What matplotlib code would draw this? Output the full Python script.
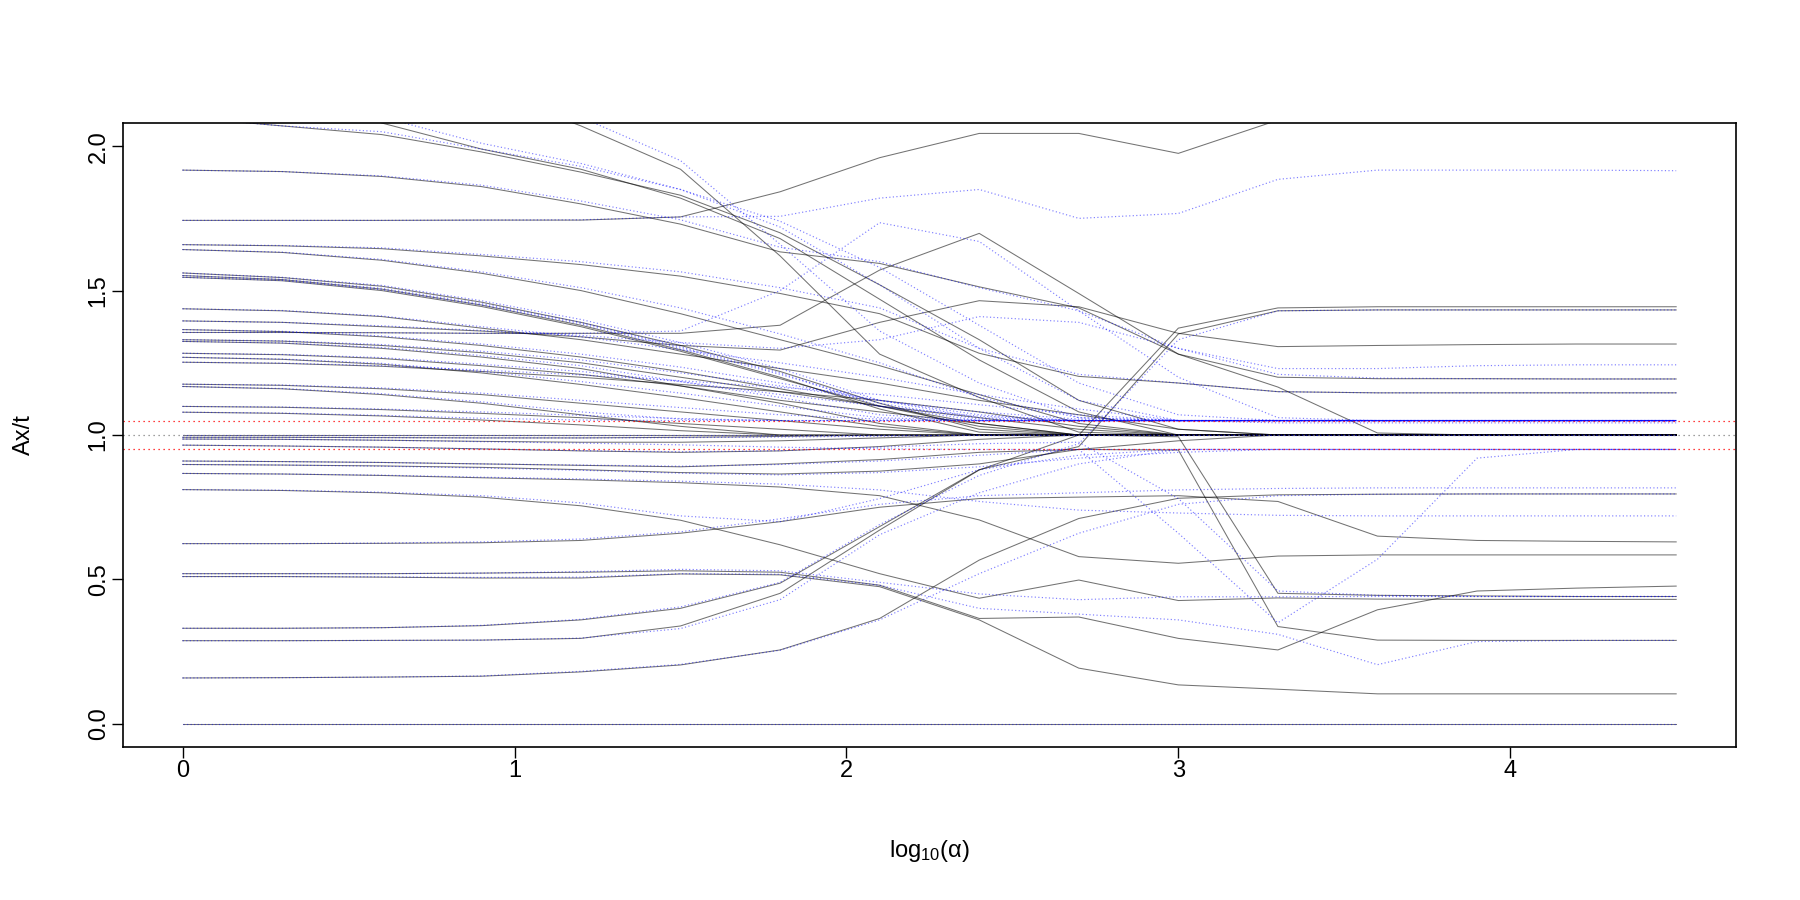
import matplotlib
matplotlib.use('Agg')
import matplotlib.pyplot as plt

plt.rcParams['font.family'] = ['Liberation Sans', 'DejaVu Sans']
plt.rcParams['mathtext.fontset'] = 'custom'
plt.rcParams['mathtext.rm'] = 'Liberation Sans'
plt.rcParams['mathtext.it'] = 'Liberation Sans'

# ── Data ──────────────────────────────────────────────────────────────────────
log_alpha = [0.0, 0.3, 0.6, 0.9, 1.2, 1.5, 1.8, 2.1, 2.4, 2.7, 3.0, 3.3, 3.6, 3.9, 4.2, 4.5]

# solid (grey) runs, one row per constraint
solid_runs = [
    [2.60, 2.50, 2.35, 2.20, 2.07, 1.92, 1.62, 1.28, 1.13, 1.01, 1.00, 1.00, 1.00, 1.00, 1.00, 1.00],
    [2.40, 2.25, 2.08, 1.99, 1.92, 1.82, 1.68, 1.47, 1.26, 1.08, 1.00, 1.00, 1.00, 1.00, 1.00, 1.00],
    [2.10, 2.07, 2.04, 1.98, 1.91, 1.83, 1.70, 1.52, 1.33, 1.12, 1.02, 1.00, 1.00, 1.00, 1.00, 1.00],
    [1.743, 1.743, 1.743, 1.744, 1.744, 1.755, 1.842, 1.960, 2.044, 2.044, 1.975, 2.090, 2.200, 2.200, 2.200, 2.200],
    [1.917, 1.912, 1.895, 1.860, 1.800, 1.730, 1.634, 1.594, 1.513, 1.440, 1.280, 1.200, 1.195, 1.195, 1.194, 1.194],
    [1.659, 1.655, 1.645, 1.620, 1.590, 1.550, 1.490, 1.420, 1.283, 1.203, 1.180, 1.150, 1.146, 1.146, 1.146, 1.146],
    [1.642, 1.632, 1.605, 1.560, 1.500, 1.420, 1.330, 1.240, 1.140, 1.040, 1.000, 1.000, 1.000, 1.000, 1.000, 1.000],
    [1.561, 1.545, 1.515, 1.460, 1.390, 1.310, 1.220, 1.110, 1.020, 1.000, 1.000, 1.000, 1.000, 1.000, 1.000, 1.000],
    [1.552, 1.538, 1.505, 1.450, 1.380, 1.295, 1.200, 1.090, 1.010, 1.000, 1.000, 1.000, 1.000, 1.000, 1.000, 1.000],
    [1.546, 1.534, 1.500, 1.445, 1.375, 1.290, 1.195, 1.100, 1.030, 1.000, 1.000, 1.000, 1.000, 1.000, 1.000, 1.000],
    [1.437, 1.430, 1.410, 1.370, 1.330, 1.280, 1.230, 1.180, 1.120, 1.070, 1.020, 1.000, 1.000, 1.000, 1.000, 1.000],
    [1.395, 1.390, 1.375, 1.360, 1.340, 1.310, 1.294, 1.390, 1.465, 1.444, 1.352, 1.306, 1.310, 1.313, 1.315, 1.315],
    [1.365, 1.358, 1.340, 1.310, 1.270, 1.220, 1.160, 1.100, 1.040, 1.000, 1.000, 1.000, 1.000, 1.000, 1.000, 1.000],
    [1.355, 1.355, 1.354, 1.352, 1.352, 1.352, 1.380, 1.571, 1.698, 1.490, 1.280, 1.166, 1.007, 1.000, 1.000, 1.000],
    [1.330, 1.325, 1.310, 1.285, 1.250, 1.200, 1.150, 1.100, 1.060, 1.020, 1.000, 1.000, 1.000, 1.000, 1.000, 1.000],
    [1.324, 1.318, 1.300, 1.270, 1.230, 1.170, 1.110, 1.040, 1.000, 1.000, 1.000, 1.000, 1.000, 1.000, 1.000, 1.000],
    [1.283, 1.278, 1.265, 1.240, 1.210, 1.170, 1.120, 1.080, 1.040, 1.000, 1.000, 1.000, 1.000, 1.000, 1.000, 1.000],
    [1.269, 1.262, 1.245, 1.215, 1.175, 1.130, 1.080, 1.030, 1.000, 1.000, 1.000, 1.000, 1.000, 1.000, 1.000, 1.000],
    [1.252, 1.248, 1.238, 1.220, 1.200, 1.175, 1.150, 1.120, 1.080, 1.030, 1.000, 1.000, 1.000, 1.000, 1.000, 1.000],
    [1.176, 1.172, 1.160, 1.140, 1.110, 1.080, 1.050, 1.020, 1.000, 1.000, 1.000, 1.000, 1.000, 1.000, 1.000, 1.000],
    [1.168, 1.160, 1.140, 1.110, 1.070, 1.030, 1.000, 1.000, 1.000, 1.000, 1.000, 1.000, 1.000, 1.000, 1.000, 1.000],
    [1.099, 1.096, 1.088, 1.075, 1.060, 1.040, 1.020, 1.000, 1.000, 1.000, 1.000, 1.000, 1.000, 1.000, 1.000, 1.000],
    [1.079, 1.075, 1.066, 1.052, 1.035, 1.015, 1.000, 1.000, 1.000, 1.000, 1.000, 1.000, 1.000, 1.000, 1.000, 1.000],
    [1.000, 1.000, 1.000, 1.000, 1.000, 1.000, 1.000, 1.000, 1.000, 1.000, 1.000, 1.000, 1.000, 1.000, 1.000, 1.000],
    [0.992, 0.992, 0.991, 0.990, 0.990, 0.992, 0.995, 1.000, 1.000, 1.000, 1.000, 1.000, 1.000, 1.000, 1.000, 1.000],
    [0.986, 0.985, 0.982, 0.978, 0.975, 0.975, 0.980, 0.990, 1.000, 1.000, 1.000, 1.000, 1.000, 1.000, 1.000, 1.000],
    [0.965, 0.962, 0.958, 0.952, 0.945, 0.940, 0.945, 0.960, 0.985, 1.000, 0.994, 0.452, 0.445, 0.443, 0.441, 0.441],
    [0.910, 0.908, 0.905, 0.900, 0.895, 0.890, 0.900, 0.915, 0.940, 0.950, 0.948, 0.337, 0.290, 0.289, 0.289, 0.289],
    [0.898, 0.896, 0.893, 0.888, 0.880, 0.870, 0.865, 0.875, 0.900, 0.950, 0.980, 1.000, 1.000, 1.000, 1.000, 1.000],
    [0.867, 0.865, 0.860, 0.852, 0.845, 0.835, 0.820, 0.790, 0.706, 0.579, 0.556, 0.581, 0.585, 0.585, 0.585, 0.585],
    [0.811, 0.808, 0.800, 0.785, 0.755, 0.705, 0.620, 0.520, 0.435, 0.498, 0.427, 0.436, 0.432, 0.431, 0.431, 0.431],
    [0.624, 0.624, 0.625, 0.627, 0.635, 0.660, 0.700, 0.750, 0.780, 0.785, 0.790, 0.770, 0.650, 0.635, 0.632, 0.630],
    [0.520, 0.520, 0.520, 0.522, 0.525, 0.530, 0.525, 0.480, 0.365, 0.370, 0.296, 0.256, 0.395, 0.460, 0.470, 0.477],
    [0.510, 0.510, 0.508, 0.505, 0.505, 0.519, 0.516, 0.475, 0.360, 0.193, 0.135, 0.120, 0.104, 0.104, 0.104, 0.104],
    [0.331, 0.331, 0.333, 0.340, 0.360, 0.400, 0.487, 0.683, 0.880, 0.960, 1.350, 1.430, 1.433, 1.433, 1.433, 1.433],
    [0.288, 0.288, 0.289, 0.290, 0.296, 0.339, 0.452, 0.671, 0.879, 1.000, 1.370, 1.440, 1.444, 1.444, 1.444, 1.444],
    [0.159, 0.160, 0.162, 0.165, 0.180, 0.204, 0.256, 0.365, 0.567, 0.711, 0.781, 0.793, 0.795, 0.796, 0.796, 0.796],
    [0.000, 0.000, 0.000, 0.000, 0.000, 0.000, 0.000, 0.000, 0.000, 0.000, 0.000, 0.000, 0.000, 0.000, 0.000, 0.000],
]

# dotted (blue) runs, same constraints, second method
dotted_runs = [
    [2.60, 2.50, 2.36, 2.22, 2.10, 1.95, 1.66, 1.36, 1.18, 1.06, 1.05, 1.05, 1.05, 1.05, 1.05, 1.05],
    [2.40, 2.26, 2.10, 2.01, 1.94, 1.85, 1.72, 1.52, 1.30, 1.12, 1.05, 1.05, 1.05, 1.05, 1.05, 1.05],
    [2.10, 2.07, 2.05, 1.99, 1.93, 1.85, 1.74, 1.58, 1.38, 1.18, 1.07, 1.05, 1.05, 1.05, 1.05, 1.05],
    [1.743, 1.743, 1.743, 1.744, 1.745, 1.755, 1.757, 1.820, 1.850, 1.750, 1.767, 1.885, 1.917, 1.917, 1.917, 1.915],
    [1.917, 1.912, 1.897, 1.865, 1.810, 1.745, 1.650, 1.600, 1.510, 1.430, 1.300, 1.210, 1.197, 1.195, 1.194, 1.194],
    [1.659, 1.656, 1.648, 1.625, 1.600, 1.565, 1.510, 1.440, 1.300, 1.210, 1.180, 1.150, 1.146, 1.146, 1.146, 1.146],
    [1.642, 1.633, 1.608, 1.565, 1.510, 1.440, 1.350, 1.250, 1.130, 1.060, 1.050, 1.050, 1.050, 1.050, 1.050, 1.050],
    [1.561, 1.546, 1.518, 1.465, 1.400, 1.320, 1.230, 1.120, 1.060, 1.050, 1.050, 1.050, 1.050, 1.050, 1.050, 1.050],
    [1.552, 1.539, 1.508, 1.455, 1.390, 1.305, 1.215, 1.100, 1.050, 1.050, 1.050, 1.050, 1.050, 1.050, 1.050, 1.050],
    [1.546, 1.535, 1.503, 1.450, 1.385, 1.300, 1.210, 1.110, 1.055, 1.050, 1.050, 1.050, 1.050, 1.050, 1.050, 1.050],
    [1.437, 1.431, 1.412, 1.375, 1.340, 1.295, 1.250, 1.200, 1.140, 1.090, 1.050, 1.050, 1.050, 1.050, 1.050, 1.050],
    [1.395, 1.390, 1.378, 1.362, 1.345, 1.320, 1.300, 1.330, 1.410, 1.390, 1.300, 1.230, 1.230, 1.240, 1.243, 1.243],
    [1.365, 1.359, 1.343, 1.315, 1.280, 1.235, 1.180, 1.120, 1.070, 1.050, 1.050, 1.050, 1.050, 1.050, 1.050, 1.050],
    [1.355, 1.355, 1.354, 1.352, 1.352, 1.360, 1.500, 1.735, 1.670, 1.430, 1.200, 1.060, 1.050, 1.050, 1.050, 1.050],
    [1.330, 1.326, 1.313, 1.290, 1.260, 1.215, 1.170, 1.120, 1.080, 1.055, 1.050, 1.050, 1.050, 1.050, 1.050, 1.050],
    [1.324, 1.319, 1.303, 1.275, 1.240, 1.185, 1.130, 1.070, 1.050, 1.050, 1.050, 1.050, 1.050, 1.050, 1.050, 1.050],
    [1.283, 1.279, 1.268, 1.245, 1.220, 1.185, 1.140, 1.100, 1.065, 1.050, 1.050, 1.050, 1.050, 1.050, 1.050, 1.050],
    [1.269, 1.263, 1.248, 1.220, 1.185, 1.145, 1.100, 1.060, 1.050, 1.050, 1.050, 1.050, 1.050, 1.050, 1.050, 1.050],
    [1.252, 1.249, 1.240, 1.225, 1.208, 1.188, 1.165, 1.140, 1.105, 1.070, 1.050, 1.042, 1.042, 1.042, 1.042, 1.042],
    [1.176, 1.173, 1.163, 1.145, 1.120, 1.095, 1.070, 1.055, 1.050, 1.050, 1.050, 1.050, 1.050, 1.050, 1.050, 1.050],
    [1.168, 1.161, 1.143, 1.115, 1.080, 1.055, 1.050, 1.050, 1.050, 1.050, 1.050, 1.050, 1.050, 1.050, 1.050, 1.050],
    [1.099, 1.097, 1.090, 1.080, 1.068, 1.057, 1.050, 1.050, 1.050, 1.050, 1.050, 1.050, 1.050, 1.050, 1.050, 1.050],
    [1.079, 1.076, 1.068, 1.058, 1.052, 1.050, 1.050, 1.050, 1.050, 1.050, 1.050, 1.050, 1.050, 1.050, 1.050, 1.050],
    [1.000, 1.000, 1.000, 1.000, 1.000, 1.000, 1.000, 1.000, 1.000, 1.000, 1.000, 1.000, 1.000, 1.000, 1.000, 1.000],
    [0.992, 0.992, 0.991, 0.990, 0.990, 0.991, 0.993, 0.996, 1.000, 1.000, 1.000, 1.000, 1.000, 1.000, 1.000, 1.000],
    [0.986, 0.985, 0.982, 0.977, 0.972, 0.966, 0.958, 0.952, 0.950, 0.950, 0.950, 0.950, 0.950, 0.950, 0.950, 0.950],
    [0.965, 0.962, 0.958, 0.952, 0.946, 0.942, 0.946, 0.958, 0.970, 0.975, 0.780, 0.460, 0.445, 0.441, 0.441, 0.441],
    [0.910, 0.908, 0.905, 0.900, 0.896, 0.892, 0.898, 0.910, 0.930, 0.950, 0.660, 0.350, 0.570, 0.920, 0.950, 0.950],
    [0.898, 0.896, 0.892, 0.886, 0.878, 0.868, 0.862, 0.870, 0.890, 0.920, 0.940, 0.950, 0.950, 0.950, 0.950, 0.950],
    [0.867, 0.865, 0.861, 0.854, 0.848, 0.840, 0.830, 0.810, 0.770, 0.740, 0.730, 0.722, 0.720, 0.720, 0.720, 0.720],
    [0.811, 0.809, 0.802, 0.790, 0.765, 0.720, 0.700, 0.780, 0.880, 0.930, 0.950, 0.950, 0.950, 0.950, 0.950, 0.950],
    [0.624, 0.624, 0.626, 0.630, 0.640, 0.665, 0.710, 0.760, 0.790, 0.800, 0.810, 0.815, 0.817, 0.817, 0.817, 0.817],
    [0.520, 0.520, 0.520, 0.522, 0.527, 0.535, 0.530, 0.490, 0.450, 0.430, 0.440, 0.440, 0.441, 0.441, 0.441, 0.441],
    [0.510, 0.510, 0.509, 0.507, 0.508, 0.520, 0.518, 0.480, 0.400, 0.380, 0.360, 0.310, 0.205, 0.285, 0.289, 0.289],
    [0.331, 0.331, 0.333, 0.341, 0.362, 0.405, 0.490, 0.690, 0.860, 0.970, 1.330, 1.430, 1.433, 1.433, 1.433, 1.433],
    [0.288, 0.288, 0.289, 0.290, 0.297, 0.330, 0.430, 0.655, 0.800, 0.900, 0.950, 0.950, 0.950, 0.950, 0.950, 0.950],
    [0.159, 0.160, 0.162, 0.166, 0.182, 0.206, 0.255, 0.360, 0.520, 0.660, 0.760, 0.790, 0.795, 0.796, 0.796, 0.796],
    [0.000, 0.000, 0.000, 0.000, 0.000, 0.000, 0.000, 0.000, 0.000, 0.000, 0.000, 0.000, 0.000, 0.000, 0.000, 0.000],
]

target = 1.0
tol_lines = [1.05, 0.95]

# ── Figure ────────────────────────────────────────────────────────────────────
fig = plt.figure(figsize=(18, 9), dpi=100)
ax = fig.add_axes([0.0683, 0.170, 0.8961, 0.6933])

for run in solid_runs:
    ax.plot(log_alpha, run, color='black', lw=0.75, alpha=0.55)
for run in dotted_runs:
    ax.plot(log_alpha, run, color='blue', lw=0.85, alpha=0.5, linestyle=(0, (1, 2)))

# reference lines: target and +/- 5% band
ax.axhline(target, color='grey', lw=0.9, linestyle=(0, (1, 3)))
for h in tol_lines:
    ax.axhline(h, color='red', lw=0.9, linestyle=(0, (1, 3)))

ax.set_xlim(-0.18, 4.68)
ax.set_ylim(-0.08, 2.08)
ax.set_xticks([0, 1, 2, 3, 4])
ax.set_yticks([0.0, 0.5, 1.0, 1.5, 2.0])
ax.set_yticklabels(['0.0', '0.5', '1.0', '1.5', '2.0'], rotation=90, va='center')
ax.tick_params(direction='out', length=8, width=1, labelsize=17, pad=1.5)
for sp in ax.spines.values():
    sp.set_linewidth(1.2)

ax.set_xlabel(r'log$_{10}$($\alpha$)', fontsize=17, labelpad=40)
ax.set_ylabel('Ax/t', fontsize=17, labelpad=38)

fig.savefig('out.png', dpi=100)
